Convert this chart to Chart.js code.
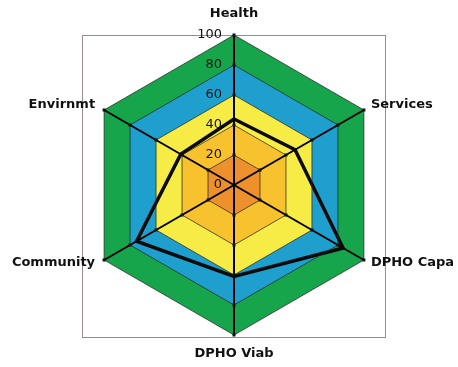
<!DOCTYPE html>
<html>
<head>
<meta charset="utf-8">
<script src="https://cdn.jsdelivr.net/npm/chart.js@4.4.1/dist/chart.umd.min.js"></script>
<style>
  html, body { margin: 0; padding: 0; background: #fff; }
  #wrap { width: 458px; height: 367px; position: relative; }
</style>
</head>
<body>
<div id="wrap"><canvas id="radarChart"></canvas></div>
<script>
// Axes (clockwise from top)
const categories = ['Health', 'Services', 'DPHO Capa', 'DPHO Viab', 'Community', 'Envirnmt'];
// Score line
const scores = [44, 47, 84, 61, 75, 41];
// Background bands, outermost first
const bandLevels = [100, 80, 60, 40, 20];
const bandColors = ['#17a54b', '#1f9fcd', '#f7ec45', '#f8c22e', '#ee912c'];
// Tick labels on the Health axis
const tickValues = [0, 20, 40, 60, 80, 100];

// Bands are drawn as filled radar polygons, smallest one on top
const bandDatasets = bandLevels.map((level, i) => ({
    label: 'band ' + level,
    data: categories.map(() => level),
    fill: 'origin',
    backgroundColor: bandColors[i],
    borderWidth: 0,
    pointRadius: 0
})).reverse();

// Helper: frame, tick labels, axis labels, level marks
const decorPlugin = {
    id: 'decor',
    beforeDatasetsDraw(chart) {
        const r = chart.scales.r;
        const ctx = chart.ctx;
        ctx.save();
        ctx.strokeStyle = '#9a8c8c';
        ctx.lineWidth = 1;
        ctx.strokeRect(r.xCenter - r.drawingArea - 1.5, r.yCenter - r.drawingArea + 0.5,
            r.drawingArea * 2 + 3, r.drawingArea * 2 + 2);
        ctx.restore();
    },
    afterDraw(chart) {
        const r = chart.scales.r;
        const ctx = chart.ctx;
        ctx.save();

        // small marks where the rings cross each axis
        ctx.fillStyle = '#111';
        categories.forEach((c, i) => {
            tickValues.forEach(v => {
                if (v === 0) return;
                const p = r.getPointPositionForValue(i, v);
                ctx.fillRect(p.x - 1.5, p.y - 1.5, 3, 3);
            });
        });

        // tick labels, right aligned left of the top axis
        ctx.font = '13px "DejaVu Sans"';
        ctx.fillStyle = '#111';
        ctx.textAlign = 'right';
        ctx.textBaseline = 'middle';
        tickValues.forEach(v => {
            const d = r.getDistanceFromCenterForValue(v);
            ctx.fillText(String(v), r.xCenter - 12, r.yCenter - d);
        });

        // axis labels
        ctx.font = 'bold 13px "DejaVu Sans"';
        ctx.fillStyle = '#111';
        categories.forEach((c, i) => {
            const p = r.getPointPositionForValue(i, 100);
            let x = p.x, y = p.y;
            if (Math.abs(p.x - r.xCenter) < 2) {
                ctx.textAlign = 'center';
                y = p.y < r.yCenter ? p.y - 21 : p.y + 19;
            } else if (p.x > r.xCenter) {
                ctx.textAlign = 'left';
                x = p.x + 7;
                y = p.y < r.yCenter ? p.y - 5 : p.y + 3;
            } else {
                ctx.textAlign = 'right';
                x = p.x - 9;
                y = p.y < r.yCenter ? p.y - 5 : p.y + 3;
            }
            ctx.fillText(c, x, y);
        });
        ctx.restore();
    }
};

new Chart(document.getElementById('radarChart'), {
    type: 'radar',
    data: {
        labels: categories,
        datasets: [{
            label: 'Score',
            data: scores,
            fill: false,
            borderColor: '#0a0a0a',
            borderWidth: 3.5,
            borderJoinStyle: 'miter',
            pointRadius: 0,
            tension: 0
        }].concat(bandDatasets)
    },
    options: {
        responsive: true,
        maintainAspectRatio: false,
        animation: false,
        layout: { padding: { left: 84, right: 74, top: 35, bottom: 32 } },
        plugins: {
            legend: { display: false },
            tooltip: { enabled: false }
        },
        scales: {
            r: {
                min: 0,
                max: 100,
                ticks: { stepSize: 20, display: false },
                pointLabels: { display: false },
                grid: { color: 'rgba(40,40,40,0.75)', lineWidth: 1, z: 1 },
                angleLines: { color: '#000', lineWidth: 2 }
            }
        }
    },
    plugins: [decorPlugin]
});
</script>
</body>
</html>
